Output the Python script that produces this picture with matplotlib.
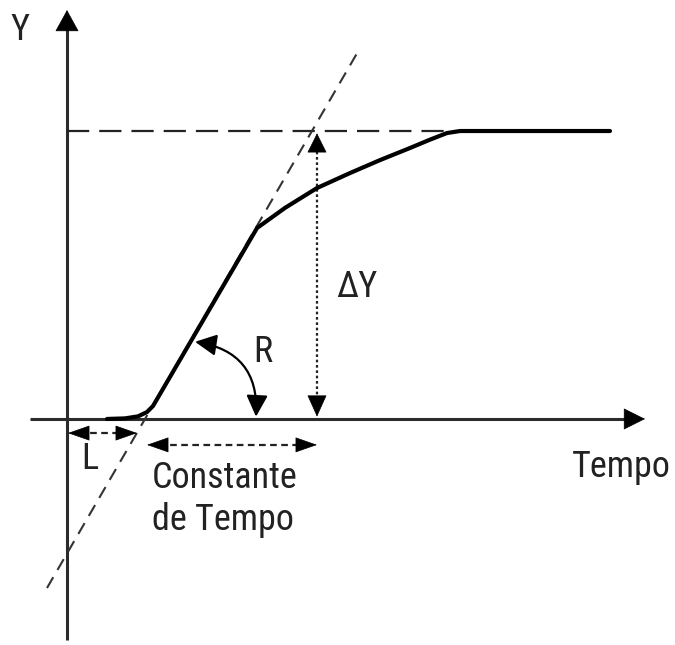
import matplotlib
matplotlib.use('Agg')
import matplotlib.pyplot as plt
from matplotlib.patches import FancyArrowPatch

# ---- data (time in arbitrary units, response normalised to final value 1) ----
curve_t = [0.40, 0.58, 0.71, 0.80, 0.86, 1.90, 2.18, 2.50, 2.83, 3.13, 3.43, 3.63, 3.80, 3.93, 5.43]
curve_y = [0.0, 0.002, 0.009, 0.024, 0.045, 0.663, 0.733, 0.802, 0.854, 0.899, 0.941, 0.970, 0.993, 1.0, 1.0]
dead_time_L = 0.78          # where the tangent crosses the time axis
slope_R = 0.599             # slope of the tangent
time_constant_end = 2.50    # L + T
final_value = 1.0           # delta Y
tangent_t = [-0.20, 2.93]
plateau_dash_end = 3.80

labels = {"y": "Y", "x": "Tempo", "L": "L", "R": "R", "dY": "\u0394Y",
          "T": "Constante\nde Tempo"}

# ---- figure ----
fig = plt.figure(figsize=(6.75, 6.45), dpi=100)
ax = fig.add_axes([0, 0, 1, 1])
ax.set_xlim(-0.67, 6.08)
ax.set_ylim(-0.785, 1.455)
ax.set_axis_off()

PX = 0.01        # time units per pixel
PY = 1 / 288.0   # value units per pixel
FONT = ['Roboto Condensed', 'Pragati Narrow', 'DejaVu Sans']
axis_col = '#2b2b2b'


def head(tip, dx, dy, length=18, half_width=8, color='black'):
    tail = (tip[0] - dx * length * PX, tip[1] - dy * length * PY)
    ax.add_patch(FancyArrowPatch(
        tail, tip,
        arrowstyle=f'-|>,head_length={length*0.72:.2f},head_width={half_width*0.72:.2f}',
        mutation_scale=1, shrinkA=0, shrinkB=0, color=color, lw=0.5, zorder=5))


# axes
x_axis_start, x_axis_tip = -0.37, 5.78
y_axis_start, y_axis_tip = -0.767, 1.42
ax.plot([x_axis_start, x_axis_tip - 0.15], [0, 0], color=axis_col, lw=2.2, solid_capstyle='butt')
head((x_axis_tip, 0), 1, 0, length=20, half_width=10, color='black')
ax.plot([0, 0], [y_axis_start, y_axis_tip - 0.06], color=axis_col, lw=2.2, solid_capstyle='butt')
head((0, y_axis_tip), 0, 1, length=20, half_width=11, color='black')

# final value dashed line
ax.plot([0, plateau_dash_end], [final_value, final_value], color='#222222', lw=1.6,
        linestyle=(0, (10, 4.5)))

# tangent line
tan_y = [slope_R * (t - dead_time_L) for t in tangent_t]
ax.plot(tangent_t, tan_y, color='#333333', lw=1.5, linestyle=(0, (6, 4)))

# response curve
ax.plot(curve_t, curve_y, color='black', lw=3.0, solid_joinstyle='round',
        solid_capstyle='round', zorder=4)

# delta Y arrow (dotted)
yT = time_constant_end
ax.plot([yT, yT], [0.05, final_value - 0.06], color='#222222', lw=1.6,
        linestyle=(0, (1.2, 1.2)))
head((yT, final_value - 0.008), 0, 1, length=18, half_width=9)
head((yT, 0.008), 0, -1, length=20, half_width=9)

# L arrow
yL = -0.049
L_end = 0.70
ax.plot([0.12, L_end - 0.12], [yL, yL], color='#222222', lw=1.6, linestyle=(0, (3, 2)))
head((0.01, yL), -1, 0, length=20, half_width=7)
head((L_end, yL), 1, 0, length=20, half_width=7)

# time-constant arrow
yC = -0.090
C_start = 0.80
ax.plot([C_start + 0.12, time_constant_end - 0.12], [yC, yC], color='#222222', lw=1.6,
        linestyle=(0, (3, 2)))
head((C_start, yC), -1, 0, length=20, half_width=7)
head((time_constant_end, yC), 1, 0, length=20, half_width=7)

# R curved arrow
ax.add_patch(FancyArrowPatch(
    (1.28, 0.268), (1.89, 0.008),
    connectionstyle='arc3,rad=-0.45',
    arrowstyle='<|-|>,head_length=13,head_width=6.5', mutation_scale=1,
    shrinkA=0, shrinkB=0, color='black', lw=1.6, zorder=5))

# texts
tc = '#222222'
fs = 26
ax.text(-0.47, 1.35, labels["y"], fontsize=fs, family=FONT, color=tc, ha='center', va='center')
ax.text(6.04, -0.201, labels["x"], fontsize=fs, family=FONT, color=tc, ha='right', va='baseline')
ax.text(0.23, -0.140, labels["L"], fontsize=fs, family=FONT, color=tc, ha='center', va='center')
ax.text(1.96, 0.233, labels["R"], fontsize=fs, family=FONT, color=tc, ha='center', va='center')
ax.text(2.90, 0.458, labels["dY"], fontsize=fs, family=FONT, color=tc, ha='center', va='center')
ax.text(0.85, -0.385, labels["T"], fontsize=fs, family=FONT, color=tc, ha='left', va='baseline',
        linespacing=1.2)

fig.savefig('out.png', dpi=100)
